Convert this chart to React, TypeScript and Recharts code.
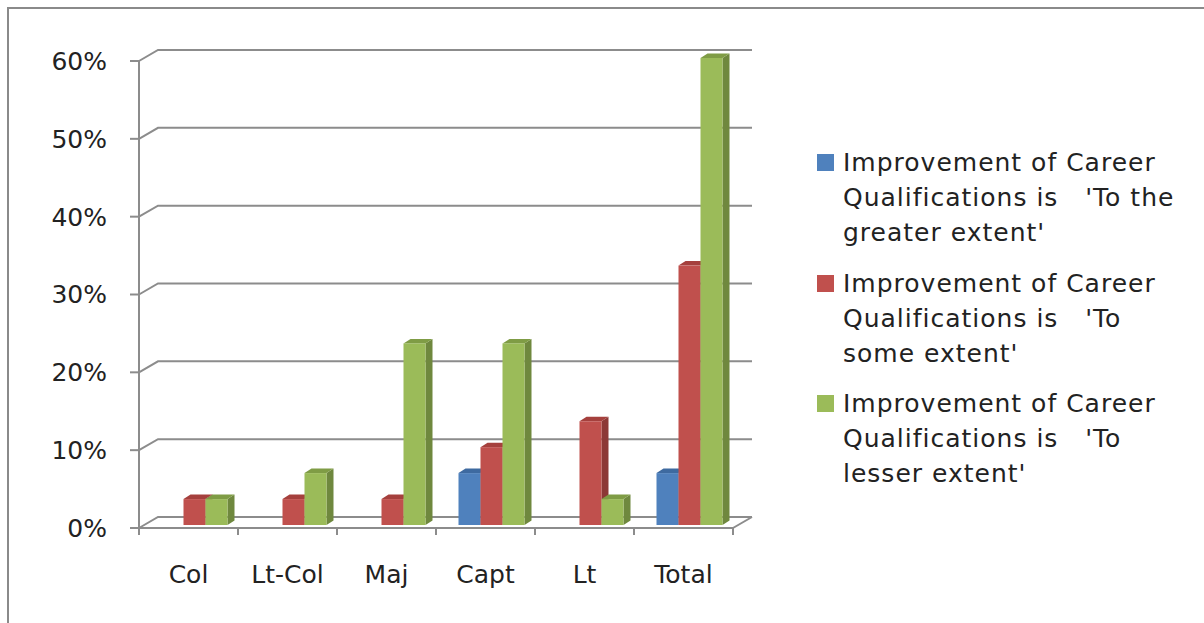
import { BarChart, Bar, XAxis, YAxis, CartesianGrid, Legend } from "recharts";

// Share of respondents (%) by rank
const CATEGORIES = ["Col", "Lt-Col", "Maj", "Capt", "Lt", "Total"];
const GREATER = [0, 0, 0, 6.67, 0, 6.67];
const SOME = [3.33, 3.33, 3.33, 10, 13.33, 33.33];
const LESSER = [3.33, 6.67, 23.33, 23.33, 3.33, 60];
const Y_TICKS = [0, 10, 20, 30, 40, 50, 60];

const SERIES_ORDER = ["greater", "some", "lesser"];
const SERIES_NAMES = {
  greater: "Improvement of Career Qualifications is   'To the greater extent'",
  some: "Improvement of Career Qualifications is   'To some extent'",
  lesser: "Improvement of Career Qualifications is   'To lesser extent'",
};
const LEGEND_LINES: Record<string, string[]> = {
  greater: ["Improvement of Career", "Qualifications is   'To the", "greater extent'"],
  some: ["Improvement of Career", "Qualifications is   'To", "some extent'"],
  lesser: ["Improvement of Career", "Qualifications is   'To", "lesser extent'"],
};

const data = CATEGORIES.map((cat, i) => ({
  cat,
  greater: GREATER[i],
  some: SOME[i],
  lesser: LESSER[i],
}));

const BLUE = { face: "#4f81bd", top: "#3e6aa0", side: "#385d8a" };
const RED = { face: "#c0504d", top: "#a5403d", side: "#8c3836" };
const GREEN = { face: "#9bbb59", top: "#7f9c45", side: "#6f883e" };

const GRID = "#8c8c8c";
const TEXT = "#222";
const FONT = "'DejaVu Sans', Verdana, sans-serif";

// pseudo-3D frame: back wall offset, bar placement inside the depth, bar thickness
const WALL_DX = 19;
const WALL_DY = -11;
const BAR_DX = 5.5;
const BAR_DY = -3;
const DEPTH_X = 7;
const DEPTH_Y = -4.5;

function make3DBar(colors: { face: string; top: string; side: string }) {
  return (props: any) => {
    const { x, y, width, height } = props;
    if (!height || height <= 0) return <g />;
    const fx = x + BAR_DX;
    const fy = y + BAR_DY;
    const top = `${fx},${fy} ${fx + DEPTH_X},${fy + DEPTH_Y} ${fx + width + DEPTH_X},${fy + DEPTH_Y} ${fx + width},${fy}`;
    const side = `${fx + width},${fy} ${fx + width + DEPTH_X},${fy + DEPTH_Y} ${fx + width + DEPTH_X},${fy + height + DEPTH_Y} ${fx + width},${fy + height}`;
    return (
      <g>
        <polygon points={side} fill={colors.side} />
        <polygon points={top} fill={colors.top} />
        <rect x={fx} y={fy} width={width} height={height} fill={colors.face} />
      </g>
    );
  };
}

// gridlines live on the back wall, joined to the front axis by a short diagonal
function wallLine(props: any) {
  const { x1, y1, x2, key } = props;
  return (
    <path
      key={key}
      d={`M${x1},${y1}L${x1 + WALL_DX},${y1 + WALL_DY}L${x2 + WALL_DX},${y1 + WALL_DY}`}
      stroke={GRID}
      strokeWidth={2}
      fill="none"
    />
  );
}

function CategoryTick(props: any) {
  const { x, y, payload } = props;
  const half = payload?.offset ?? 49.5;
  const last = payload.index === CATEGORIES.length - 1;
  return (
    <g>
      <line x1={x - half} y1={y} x2={x - half} y2={y + 7} stroke={GRID} strokeWidth={2} />
      {last && (
        <path
          d={`M${x + half},${y + 7}L${x + half},${y}L${x + half + WALL_DX},${y + WALL_DY}`}
          stroke={GRID}
          strokeWidth={2}
          fill="none"
        />
      )}
      <text x={x} y={y + 55} textAnchor="middle" fill={TEXT} fontSize={25} fontFamily={FONT}>
        {payload.value}
      </text>
    </g>
  );
}

function LegendBlock({ payload }: any) {
  const items = [...(payload || [])].sort(
    (a: any, b: any) => SERIES_ORDER.indexOf(a.dataKey) - SERIES_ORDER.indexOf(b.dataKey)
  );
  return (
    <div style={{ fontFamily: FONT, fontSize: 25, letterSpacing: 1, color: TEXT }}>
      {items.map((entry: any) => (
        <div
          key={entry.dataKey}
          style={{ position: "relative", paddingLeft: 26, marginBottom: 15.5, lineHeight: "35px", whiteSpace: "pre" }}
        >
          <span
            style={{ position: "absolute", left: 0, top: 9, width: 17, height: 17, background: entry.color }}
          />
          {LEGEND_LINES[entry.dataKey].map((line) => (
            <div key={line}>{line}</div>
          ))}
        </div>
      ))}
    </div>
  );
}

export default function App() {
  return (
    <div
      style={{
        position: "fixed",
        left: 7,
        top: 7,
        width: 1230,
        height: 650,
        border: "2px solid #8a8a8a",
        background: "#fff",
      }}
    >
      <BarChart
        width={1190}
        height={610}
        data={data}
        margin={{ top: 52, right: 466, left: 70, bottom: 61 }}
        barGap={0}
        barSize={22}
      >
        <CartesianGrid horizontal={wallLine} vertical={false} />
        <XAxis
          dataKey="cat"
          axisLine={{ stroke: GRID, strokeWidth: 2 }}
          tickLine={false}
          tickSize={0}
          tickMargin={0}
          tick={<CategoryTick />}
          interval={0}
        />
        <YAxis
          domain={[0, 60]}
          ticks={Y_TICKS}
          width={60}
          axisLine={{ stroke: GRID, strokeWidth: 2 }}
          tickLine={{ stroke: GRID, strokeWidth: 2 }}
          tickSize={9}
          tickMargin={23}
          tickFormatter={(v) => `${v}%`}
          tick={{ fill: TEXT, fontSize: 25, fontFamily: FONT }}
        />
        <Legend
          layout="vertical"
          align="center"
          verticalAlign="middle"
          content={LegendBlock}
          wrapperStyle={{ left: 808, top: 136, width: 390 }}
        />
        <Bar dataKey="greater" name={SERIES_NAMES.greater} fill={BLUE.face} shape={make3DBar(BLUE)} isAnimationActive={false} />
        <Bar dataKey="some" name={SERIES_NAMES.some} fill={RED.face} shape={make3DBar(RED)} isAnimationActive={false} />
        <Bar dataKey="lesser" name={SERIES_NAMES.lesser} fill={GREEN.face} shape={make3DBar(GREEN)} isAnimationActive={false} />
      </BarChart>
    </div>
  );
}
